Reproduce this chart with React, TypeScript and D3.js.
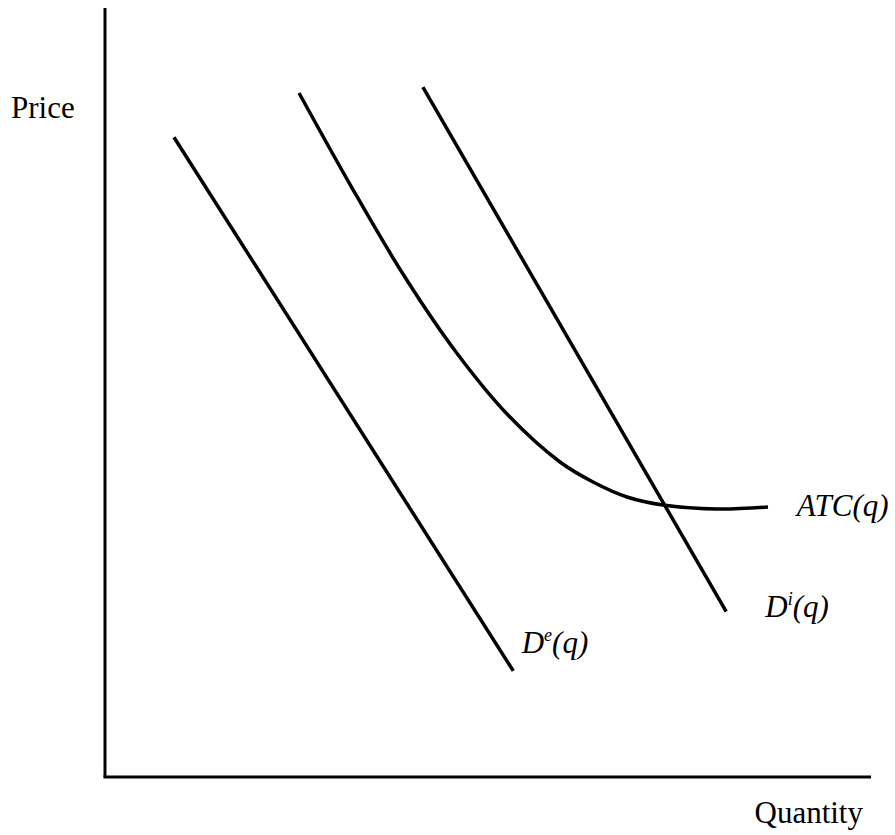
import React from "react";
import * as d3 from "d3";

const W = 895;
const H = 835;

// abstract data units: quantity 0..100, price 0..100
const demandExit = [
  { q: 9.0, p: 83.2 },
  { q: 53.3, p: 13.8 },
];
const demandIncumbent = [
  { q: 41.5, p: 89.7 },
  { q: 81.1, p: 21.5 },
];
const atcCurve = [
  { q: 25.33, p: 88.95 },
  { q: 32.11, p: 76.85 },
  { q: 38.9, p: 65.41 },
  { q: 45.82, p: 55.27 },
  { q: 52.61, p: 47.07 },
  { q: 59.4, p: 40.96 },
  { q: 63.71, p: 38.36 },
  { q: 68.15, p: 36.41 },
  { q: 72.85, p: 35.37 },
  { q: 79.9, p: 34.85 },
  { q: 86.55, p: 35.11 },
];

const labels = [
  { key: "atc", q: 90.3, p: 34.0, main: "ATC(q)", sup: "", rest: "" },
  { key: "di", q: 86.2, p: 20.8, main: "D", sup: "i", rest: "(q)" },
  { key: "de", q: 54.4, p: 16.1, main: "D", sup: "e", rest: "(q)" },
];

export default function App() {
  const x = d3.scaleLinear().domain([0, 100]).range([105, 871]);
  const y = d3.scaleLinear().domain([0, 100]).range([777, 8]);

  const straight = d3
    .line<{ q: number; p: number }>()
    .x((d) => x(d.q))
    .y((d) => y(d.p));
  const smooth = d3
    .line<{ q: number; p: number }>()
    .x((d) => x(d.q))
    .y((d) => y(d.p))
    .curve(d3.curveCatmullRom.alpha(0.5));

  const font = "'Liberation Serif', 'Times New Roman', serif";
  const fs = 31;

  return (
    <svg
      width={W}
      height={H}
      style={{ position: "absolute", left: 0, top: 0, background: "#fff" }}
    >
      {/* axes */}
      <line x1={x(0)} y1={y(100)} x2={x(0)} y2={y(0)} stroke="#000" strokeWidth={3} />
      <line x1={x(0) - 1.5} y1={y(0)} x2={x(100)} y2={y(0)} stroke="#000" strokeWidth={3} />

      <path d={straight(demandExit) || ""} fill="none" stroke="#000" strokeWidth={3.5} />
      <path d={straight(demandIncumbent) || ""} fill="none" stroke="#000" strokeWidth={3.5} />
      <path d={smooth(atcCurve) || ""} fill="none" stroke="#000" strokeWidth={3.5} />

      <text x={11} y={118} fontFamily={font} fontSize={fs} fill="#000">
        Price
      </text>
      <text x={863} y={823} fontFamily={font} fontSize={fs} fill="#000" textAnchor="end">
        Quantity
      </text>

      {labels.map((l) => (
        <text
          key={l.key}
          x={x(l.q)}
          y={y(l.p)}
          fontFamily={font}
          fontSize={fs}
          fontStyle="italic"
          fill="#000"
        >
          {l.main}
          {l.sup ? (
            <tspan fontSize={18} dy={-12}>
              {l.sup}
            </tspan>
          ) : null}
          {l.rest ? <tspan dy={12}>{l.rest}</tspan> : null}
        </text>
      ))}
    </svg>
  );
}
